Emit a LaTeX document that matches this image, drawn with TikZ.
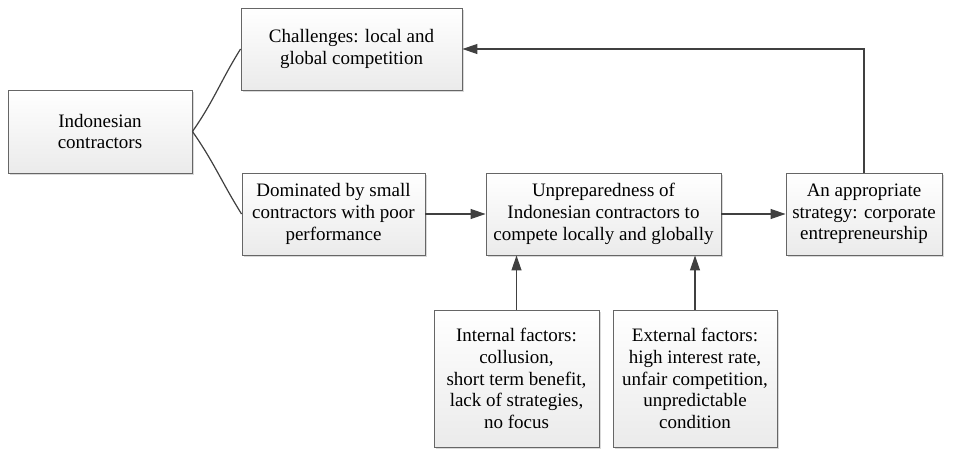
\documentclass[tikz,border=0pt]{standalone}
\usepackage{fontspec}
\setmainfont{Liberation Serif}
\usetikzlibrary{arrows.meta,shadows}
\begin{document}
\begin{tikzpicture}[x=1pt,y=-1pt,
  box/.style={draw=black!60, line width=0.9pt, top color=white, bottom color=black!8,
    drop shadow={shadow xshift=1.5pt, shadow yshift=-1.5pt, opacity=0.25, fill=black!60},
    align=center, inner sep=2pt,
    font=\fontsize{19}{21.7}\selectfont},
  conn/.style={draw=black!75, line width=1.2pt},
  arr/.style={conn, -{Triangle[length=15pt,width=10pt]}}]
\useasboundingbox (0,0) rectangle (970,450);
\node[box, minimum width=184pt, minimum height=83pt] (ind) at (100,131.5) {Indonesian\\contractors};
\node[box, minimum width=221pt, minimum height=82pt] (chal) at (351.5,49) {Challenges: local and\\global competition};
\node[box, minimum width=183pt, minimum height=82pt] (dom) at (333.5,214) {Dominated by small\\contractors with poor\\performance};
\node[box, minimum width=235pt, minimum height=82pt] (unp) at (603.5,214) {Unpreparedness of\\Indonesian contractors to\\compete locally and globally};
\node[box, minimum width=156pt, minimum height=82pt] (app) at (864,214) {An appropriate\\strategy: corporate\\entrepreneurship};
\node[box, minimum width=165pt, minimum height=137pt] (int) at (516.5,378.5) {Internal factors:\\collusion,\\short term benefit,\\lack of strategies,\\no focus};
\node[box, minimum width=164pt, minimum height=137pt] (ext) at (695,378.5) {External factors:\\high interest rate,\\unfair competition,\\unpredictable\\condition};
\draw[conn] (ind.east) to[out=55,in=238] (chal.west);
\draw[conn] (ind.east) to[out=-55,in=-238] (dom.west);
\draw[arr] (dom.east) -- (unp.west);
\draw[arr] (unp.east) -- (app.west);
\draw[arr] (int.north) -- (int.north |- unp.south);
\draw[arr] (ext.north) -- (ext.north |- unp.south);
\draw[arr] (app.north) |- (chal.east);
\end{tikzpicture}
\end{document}
